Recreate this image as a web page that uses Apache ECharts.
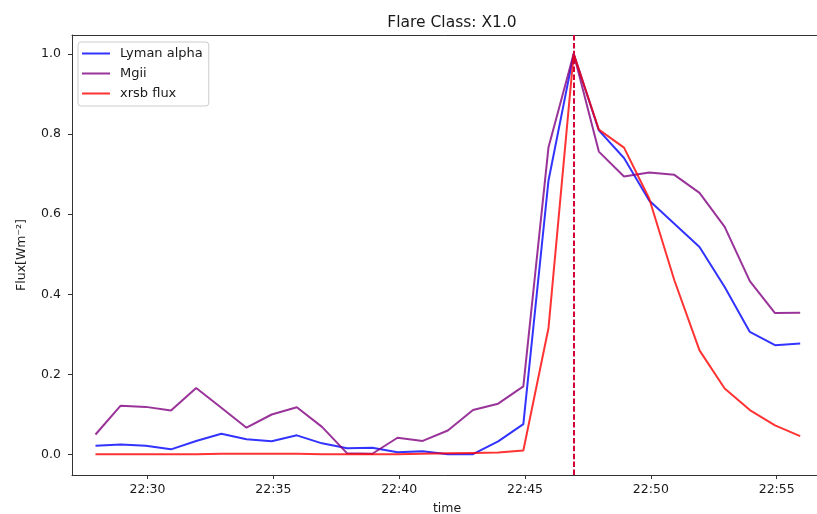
<!DOCTYPE html>
<html>
<head>
<meta charset="utf-8">
<script src="https://cdn.jsdelivr.net/npm/echarts@6/dist/echarts.min.js"></script>
<style>
  html, body { margin: 0; padding: 0; background: #fff; }
  #chart { width: 817px; height: 514px; }
</style>
</head>
<body>
<div id="chart"></div>
<script>
// Sample times (one reading per minute)
const times = [
  '22:27:56', '22:28:56', '22:29:56', '22:30:56', '22:31:56', '22:32:56',
  '22:33:56', '22:34:56', '22:35:56', '22:36:56', '22:37:56', '22:38:56',
  '22:39:56', '22:40:56', '22:41:56', '22:42:56', '22:43:56', '22:44:56',
  '22:45:56', '22:46:56', '22:47:56', '22:48:56', '22:49:56', '22:50:56',
  '22:51:56', '22:52:56', '22:53:56', '22:54:56', '22:55:56'
];

// Normalised fluxes
const lymanAlpha = [
  0.022, 0.025, 0.022, 0.013, 0.034, 0.052, 0.038, 0.033, 0.048, 0.028,
  0.016, 0.017, 0.006, 0.008, 0.001, 0.001, 0.033, 0.076, 0.684, 1.000,
  0.809, 0.740, 0.634, 0.576, 0.518, 0.418, 0.306, 0.273, 0.277
];
const mgii = [
  0.050, 0.122, 0.119, 0.110, 0.166, 0.117, 0.067, 0.100, 0.118, 0.069,
  0.003, 0.002, 0.042, 0.034, 0.060, 0.111, 0.127, 0.170, 0.767, 1.000,
  0.756, 0.694, 0.704, 0.698, 0.653, 0.568, 0.433, 0.353, 0.354
];
const xrsbFlux = [
  0.001, 0.001, 0.001, 0.001, 0.001, 0.002, 0.002, 0.002, 0.002, 0.001,
  0.001, 0.001, 0.001, 0.002, 0.003, 0.004, 0.005, 0.010, 0.316, 1.000,
  0.811, 0.766, 0.639, 0.435, 0.260, 0.165, 0.111, 0.073, 0.046
];

// Time of the X-ray peak (dashed marker)
const peakTime = '22:46:56';

// Axis ticks and limits
const xTickLabels = ['22:30', '22:35', '22:40', '22:45', '22:50', '22:55'];
const yTicks = [0.0, 0.2, 0.4, 0.6, 0.8, 1.0];
const xLimits = ['22:27:00', '22:56:48'];
const yLimits = [-0.051, 1.047];

// clock time -> minutes of the day
function toMin(hms) {
  const p = hms.split(':').map(Number);
  return p[0] * 60 + p[1] + (p[2] || 0) / 60;
}
function pad(n) { return (n < 10 ? '0' : '') + n; }
function clock(v) {
  const m = Math.round(v);
  return pad(Math.floor(m / 60)) + ':' + pad(m % 60);
}

const pairs = arr => arr.map((v, i) => [toMin(times[i]), v]);

const font = 'DejaVu Sans';
const ink = '#1a1a1a';
const frame = { color: '#333333', width: 1 };
const xTickValues = xTickLabels.map(toMin);

const chart = echarts.init(document.getElementById('chart'), null, { renderer: 'canvas' });

chart.setOption({
  animation: false,
  backgroundColor: '#ffffff',
  title: {
    text: 'Flare Class: X1.0',
    left: 447,
    top: 10,
    textAlign: 'center',
    textStyle: { fontFamily: font, fontSize: 15.5, fontWeight: 'normal', color: ink }
  },
  legend: {
    orient: 'vertical',
    left: 78,
    top: 42,
    padding: [4, 6, 5, 4],
    itemGap: 5,
    itemWidth: 28,
    itemHeight: 2,
    icon: 'rect',
    backgroundColor: 'rgba(255,255,255,0.8)',
    borderColor: '#cccccc',
    borderWidth: 1,
    borderRadius: 3,
    textStyle: { fontFamily: font, fontSize: 13, color: ink, lineHeight: 15, padding: [0, 0, 0, 5] },
    data: ['Lyman alpha', 'Mgii', 'xrsb flux']
  },
  grid: {
    left: 72,
    top: 35,
    width: 750,
    bottom: 39,
    outerBoundsMode: 'none',
    containLabel: false,
    show: false
  },
  xAxis: [
    {
      type: 'value',
      min: toMin(xLimits[0]),
      max: toMin(xLimits[1]),
      name: 'time',
      nameLocation: 'middle',
      nameGap: 27,
      nameTextStyle: { fontFamily: font, fontSize: 12.5, color: ink },
      axisLine: { show: true, onZero: false, lineStyle: frame },
      axisTick: {
        show: true, inside: false, length: 4,
        lineStyle: frame,
        customValues: xTickValues
      },
      axisLabel: {
        fontFamily: font, fontSize: 12.5, color: ink, margin: 8,
        customValues: xTickValues,
        formatter: clock
      },
      splitLine: { show: false }
    },
    {
      // top edge of the plot frame
      type: 'value',
      position: 'top',
      min: toMin(xLimits[0]),
      max: toMin(xLimits[1]),
      axisLine: { show: true, onZero: false, lineStyle: frame },
      axisTick: { show: false },
      axisLabel: { show: false },
      splitLine: { show: false }
    }
  ],
  yAxis: {
    type: 'value',
    min: yLimits[0],
    max: yLimits[1],
    name: 'Flux[Wm⁻²]',
    nameLocation: 'middle',
    nameGap: 44,
    nameRotate: 90,
    nameTextStyle: { fontFamily: font, fontSize: 12.5, color: ink },
    axisLine: { show: true, onZero: false, lineStyle: frame },
    axisTick: {
      show: true, inside: false, length: 4,
      lineStyle: frame,
      customValues: yTicks
    },
    axisLabel: {
      fontFamily: font, fontSize: 12.5, color: ink, margin: 11,
      customValues: yTicks,
      formatter: v => v.toFixed(1)
    },
    splitLine: { show: false }
  },
  series: [
    {
      name: 'Lyman alpha',
      type: 'line',
      data: pairs(lymanAlpha),
      showSymbol: false,
      symbol: 'none',
      color: 'rgba(0,0,255,0.8)',
      lineStyle: { width: 2, color: 'rgba(0,0,255,0.8)' },
      z: 2
    },
    {
      name: 'Mgii',
      type: 'line',
      data: pairs(mgii),
      showSymbol: false,
      symbol: 'none',
      color: 'rgba(128,0,128,0.8)',
      lineStyle: { width: 2, color: 'rgba(128,0,128,0.8)' },
      z: 3
    },
    {
      name: 'xrsb flux',
      type: 'line',
      data: pairs(xrsbFlux),
      showSymbol: false,
      symbol: 'none',
      color: 'rgba(255,0,0,0.8)',
      lineStyle: { width: 2, color: 'rgba(255,0,0,0.8)' },
      z: 4,
      markLine: {
        silent: true,
        symbol: ['none', 'none'],
        label: { show: false },
        lineStyle: { color: '#d40038', width: 2, type: [5.5, 2.4] },
        data: [{ xAxis: toMin(peakTime) }],
        z: 5
      }
    }
  ]
});
</script>
</body>
</html>
